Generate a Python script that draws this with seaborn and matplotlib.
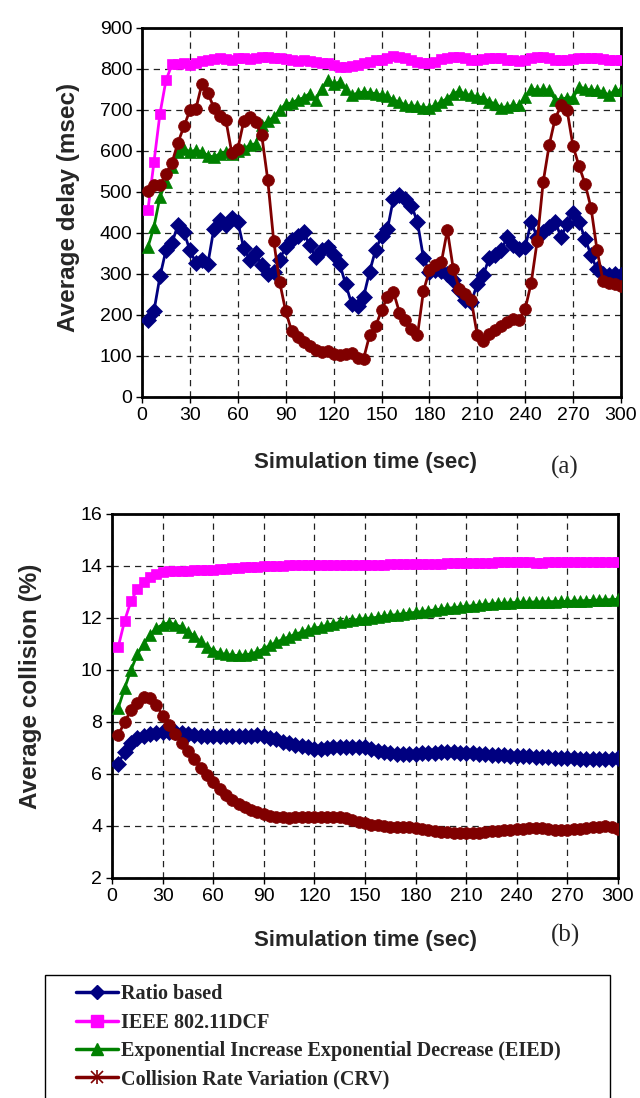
import numpy as np
import pandas as pd
import seaborn as sns
import matplotlib
matplotlib.use("Agg")
import matplotlib.pyplot as plt
from matplotlib.lines import Line2D
from matplotlib.patches import Rectangle
from matplotlib.legend_handler import HandlerTuple

# Sampling instants (s)
time_s = [3.75 * k for k in range(1, 81)]

series_names = [
    "Ratio based",
    "IEEE 802.11DCF",
    "Exponential Increase Exponential Decrease (EIED)",
    "Collision Rate Variation (CRV)",
]

# (a) Average delay (msec)
delay_ratio = [187, 210, 294, 358, 376, 419, 402, 358, 327, 335, 325, 410, 431, 419, 437, 427,
               363, 335, 350, 321, 301, 305, 335, 367, 382, 392, 402, 370, 341, 358, 366, 346,
               325, 276, 228, 221, 244, 305, 358, 392, 410, 484, 492, 484, 467, 427, 340, 305,
               309, 307, 301, 285, 260, 236, 232, 276, 297, 340, 346, 358, 390, 370, 362, 366,
               427, 390, 402, 415, 427, 390, 423, 449, 427, 386, 346, 311, 301, 298, 301, 297]
delay_dcf = [457, 573, 691, 772, 811, 813, 815, 810, 815, 820, 822, 825, 828, 825, 823, 826,
             828, 825, 827, 829, 830, 828, 826, 825, 822, 820, 821, 819, 817, 815, 814, 810,
             806, 805, 807, 810, 814, 818, 821, 823, 828, 831, 830, 827, 822, 818, 815, 815,
             818, 824, 828, 830, 830, 826, 822, 821, 824, 827, 828, 827, 823, 821, 820, 822,
             826, 829, 829, 826, 823, 822, 823, 824, 826, 828, 828, 826, 824, 822, 821, 821]
delay_eied = [366, 415, 488, 524, 561, 598, 606, 598, 602, 598, 589, 585, 593, 598, 593, 600,
              606, 614, 618, 663, 672, 683, 699, 715, 717, 725, 730, 740, 724, 752, 772, 764,
              768, 752, 736, 741, 744, 742, 740, 736, 733, 724, 720, 711, 710, 709, 706, 706,
              711, 720, 728, 740, 746, 738, 736, 732, 730, 720, 715, 706, 708, 711, 711, 732,
              752, 748, 750, 748, 725, 726, 730, 730, 756, 752, 748, 748, 744, 736, 748, 748]
delay_crv = [502, 516, 516, 545, 571, 620, 660, 699, 703, 763, 741, 706, 685, 676, 595, 606,
             673, 683, 671, 638, 530, 380, 280, 209, 161, 146, 134, 124, 114, 110, 112, 106,
             103, 104, 107, 96, 93, 150, 172, 211, 244, 256, 206, 189, 167, 150, 258, 309,
             321, 329, 407, 311, 264, 252, 236, 150, 137, 154, 163, 172, 183, 191, 189, 215,
             278, 380, 524, 614, 679, 711, 699, 611, 563, 520, 461, 358, 283, 278, 275, 271]

# (b) Average collision (%)
coll_ratio = [6.40, 6.85, 7.20, 7.37, 7.46, 7.53, 7.57, 7.60, 7.63, 7.60, 7.56, 7.53, 7.50, 7.48,
              7.46, 7.45, 7.46, 7.45, 7.46, 7.47, 7.46, 7.48, 7.50, 7.47, 7.40, 7.33, 7.25, 7.18,
              7.12, 7.06, 7.02, 6.98, 6.96, 7.00, 7.03, 7.04, 7.05, 7.04, 7.04, 7.02, 6.96, 6.90,
              6.85, 6.80, 6.78, 6.77, 6.77, 6.78, 6.79, 6.80, 6.82, 6.83, 6.85, 6.84, 6.82, 6.80,
              6.79, 6.78, 6.76, 6.75, 6.74, 6.72, 6.71, 6.70, 6.69, 6.68, 6.66, 6.65, 6.64, 6.63,
              6.62, 6.61, 6.60, 6.59, 6.58, 6.58, 6.57, 6.57, 6.57, 6.60]
coll_dcf = [10.90, 11.90, 12.65, 13.10, 13.40, 13.58, 13.70, 13.76, 13.80, 13.81, 13.82, 13.82,
            13.83, 13.84, 13.85, 13.86, 13.87, 13.89, 13.91, 13.93, 13.95, 13.97, 13.98, 13.99,
            14.00, 14.00, 14.01, 14.02, 14.02, 14.03, 14.03, 14.03, 14.04, 14.04, 14.04, 14.05,
            14.05, 14.05, 14.05, 14.05, 14.05, 14.05, 14.05, 14.06, 14.06, 14.06, 14.07, 14.07,
            14.08, 14.08, 14.09, 14.09, 14.10, 14.10, 14.10, 14.11, 14.11, 14.12, 14.12, 14.13,
            14.14, 14.15, 14.16, 14.16, 14.15, 14.14, 14.13, 14.13, 14.14, 14.14, 14.14, 14.14,
            14.15, 14.15, 14.15, 14.16, 14.16, 14.16, 14.16, 14.16]
coll_eied = [8.55, 9.30, 10.00, 10.60, 11.00, 11.35, 11.60, 11.75, 11.82, 11.75, 11.65, 11.48,
             11.30, 11.10, 10.90, 10.75, 10.65, 10.60, 10.57, 10.56, 10.58, 10.62, 10.70, 10.82,
             10.95, 11.07, 11.18, 11.28, 11.37, 11.46, 11.54, 11.60, 11.66, 11.72, 11.78, 11.83,
             11.87, 11.91, 11.95, 11.98, 12.00, 12.03, 12.07, 12.10, 12.13, 12.16, 12.19, 12.22,
             12.25, 12.28, 12.31, 12.34, 12.37, 12.40, 12.42, 12.45, 12.47, 12.50, 12.52, 12.54,
             12.56, 12.57, 12.59, 12.60, 12.61, 12.61, 12.62, 12.62, 12.63, 12.63, 12.64, 12.64,
             12.65, 12.66, 12.67, 12.68, 12.69, 12.70, 12.71, 12.72]
coll_crv = [7.50, 8.00, 8.45, 8.75, 8.95, 8.92, 8.65, 8.25, 7.90, 7.55, 7.20, 6.88, 6.56, 6.25,
            5.96, 5.68, 5.42, 5.20, 5.00, 4.86, 4.73, 4.62, 4.52, 4.45, 4.40, 4.35, 4.33, 4.32,
            4.33, 4.33, 4.34, 4.35, 4.36, 4.35, 4.34, 4.33, 4.30, 4.22, 4.15, 4.10, 4.05, 4.02,
            4.00, 3.98, 3.97, 3.96, 3.95, 3.92, 3.88, 3.84, 3.80, 3.78, 3.76, 3.75, 3.74, 3.73,
            3.73, 3.75, 3.77, 3.79, 3.81, 3.83, 3.86, 3.88, 3.90, 3.92, 3.93, 3.92, 3.88, 3.85,
            3.83, 3.84, 3.87, 3.90, 3.93, 3.96, 3.98, 4.00, 3.97, 3.88]

x_ticks = list(range(0, 301, 30))
delay_ticks = list(range(0, 901, 100))
coll_ticks = list(range(2, 17, 2))

colors = ["#000080", "#FF00FF", "#008000", "#800000"]
markers = ["D", "s", "^", "o"]
msizes = [8, 7, 8, 8.5]

sns.set_theme(style="white")
plt.rcParams["font.family"] = ["Liberation Sans", "DejaVu Sans"]

W, H = 640, 1098


def long_frame(values):
    rows = []
    for name, vals in zip(series_names, values):
        for t, v in zip(time_s, vals):
            rows.append({"time": t, "value": v, "series": name})
    return pd.DataFrame(rows)


def draw_panel(ax, values, yticks, ylabel, tag, xlabel_pos, ylabel_pos, tag_pos):
    df = long_frame(values)
    for name, c, m, ms in zip(series_names, colors, markers, msizes):
        sns.lineplot(data=df[df["series"] == name], x="time", y="value", ax=ax,
                     color=c, marker=m, markersize=ms, markeredgecolor=c,
                     markeredgewidth=0.5, linewidth=2, legend=False, zorder=3)
    ax.set_xlim(0, 300)
    ax.set_ylim(yticks[0], yticks[-1])
    ax.set_xticks(x_ticks)
    ax.set_yticks(yticks)
    ax.grid(True, color="#222222", linestyle=(0, (5, 4)), linewidth=0.9)
    ax.set_axisbelow(True)
    for sp in ax.spines.values():
        sp.set_color("black")
        sp.set_linewidth(2.0)
    ax.tick_params(axis="both", which="major", direction="out", length=4, width=1,
                   color="black", labelsize=14, labelcolor="black", pad=3,
                   bottom=True, left=True)
    ax.set_xlabel("Simulation time (sec)", fontsize=16, fontweight="bold")
    ax.set_ylabel(ylabel, fontsize=17.5, fontweight="bold")
    ax.xaxis.set_label_coords(*xlabel_pos)
    ax.yaxis.set_label_coords(*ylabel_pos)
    ax.text(*tag_pos, tag, transform=ax.transAxes, ha="center", va="center",
            fontsize=18, family="Liberation Serif")


def to_axes(ax_box, px, py):
    x0, y0, x1, y1 = ax_box
    return (px - x0) / (x1 - x0), (y1 - py) / (y1 - y0)


fig = plt.figure(figsize=(6.4, 10.98), dpi=100)
box_a = (142, 28, 621, 397)
box_b = (112, 514, 618, 878)
ax_a = fig.add_axes([box_a[0] / W, 1 - box_a[3] / H, (box_a[2] - box_a[0]) / W,
                     (box_a[3] - box_a[1]) / H])
ax_b = fig.add_axes([box_b[0] / W, 1 - box_b[3] / H, (box_b[2] - box_b[0]) / W,
                     (box_b[3] - box_b[1]) / H])

draw_panel(ax_a, [delay_ratio, delay_dcf, delay_eied, delay_crv], delay_ticks,
           "Average delay (msec)", "(a)",
           to_axes(box_a, 365, 452), to_axes(box_a, 80, 207), to_axes(box_a, 565, 467))
draw_panel(ax_b, [coll_ratio, coll_dcf, coll_eied, coll_crv], coll_ticks,
           "Average collision (%)", "(b)",
           to_axes(box_b, 366, 930), to_axes(box_b, 42, 686), to_axes(box_b, 565, 935))

# Legend box (open at the bottom edge of the figure)
fig.patches.append(Rectangle((45 / W, -0.02), (610 - 45) / W, 0.02 + 1 - 975 / H,
                             transform=fig.transFigure, facecolor="white",
                             edgecolor="black", linewidth=1.0, zorder=0))

handles = [
    Line2D([], [], color=colors[0], marker="D", markersize=7, linewidth=2.5),
    Line2D([], [], color=colors[1], marker="s", markersize=8, linewidth=2.5),
    Line2D([], [], color=colors[2], marker="^", markersize=9, linewidth=2.5),
    (Line2D([], [], color=colors[3], marker="x", markersize=8, markeredgewidth=1.2,
            linewidth=2.5),
     Line2D([], [], color=colors[3], marker="|", markersize=10, markeredgewidth=1.2,
            linewidth=0)),
]
fig.legend(handles, series_names, loc="upper left",
           bbox_to_anchor=(58 / W, 1 - 966 / H), frameon=False,
           prop={"family": "Liberation Serif", "weight": "bold", "size": 14.5},
           handlelength=2.1, handletextpad=0.15, labelspacing=0.42,
           handler_map={tuple: HandlerTuple(ndivide=1)})

fig.savefig("out.png", dpi=100, facecolor="white")
